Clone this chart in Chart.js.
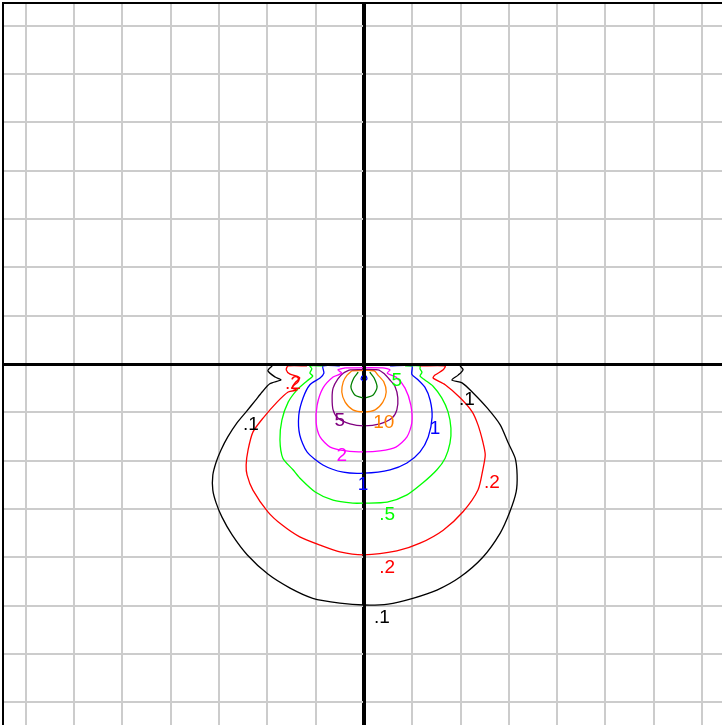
<!DOCTYPE html>
<html>
<head>
    <title>Contour plot</title>
    <meta charset="UTF-8">
    <style>
        html, body { margin: 0; padding: 0; background: #fff; overflow: hidden; }
    </style>
</head>
<body>
<canvas id="myChart" width="722" height="725"></canvas>
<script src="https://cdn.jsdelivr.net/npm/chart.js@4/dist/chart.umd.min.js"></script>
<script>
    // contour levels and their traced outlines (grid units, 1 unit = 1 grid cell)
    var levels = ['.1', '.2', '.5', '1', '2', '5', '10', '20', '50'];

    var c01X = [-1.90, -1.99, -1.84, -1.72, -1.95, -2.11, -2.26, -2.44, -2.63, -2.82, -2.96, -3.06, -3.13, -3.13, -3.06, -2.94, -2.73, -2.42, -1.99, -1.53, -1.06, -0.50, 0,
        0.50, 1.01, 1.51, 1.99, 2.46, 2.82, 3.02, 3.15, 3.17, 3.13, 2.98, 2.82, 2.55, 2.26, 2.03, 1.82, 1.95, 2.05, 1.99];
    var c01Y = [-0.04, -0.14, -0.27, -0.33, -0.41, -0.58, -0.77, -0.99, -1.22, -1.51, -1.78, -2.03, -2.30, -2.61, -2.88, -3.17, -3.54, -3.95, -4.35, -4.64, -4.85, -4.95, -4.99,
        -4.97, -4.85, -4.68, -4.41, -4.00, -3.50, -3.06, -2.65, -2.30, -1.95, -1.62, -1.26, -0.91, -0.60, -0.39, -0.33, -0.23, -0.12, -0.04];

    var c02X = [-1.18, -1.57, -1.61, -1.53, -1.39, -1.33, -1.43, -1.49, -1.39, -1.57, -1.80, -2.09, -2.30, -2.40, -2.44, -2.42, -2.30, -1.99, -1.70, -1.33, -0.91, -0.50, 0,
        0.68, 1.16, 1.64, 2.05, 2.36, 2.46, 2.51, 2.46, 2.36, 2.24, 1.99, 1.68, 1.43, 1.47, 1.64, 1.68, 1.16];
    var c02Y = [-0.04, -0.04, -0.12, -0.21, -0.25, -0.29, -0.39, -0.50, -0.54, -0.58, -0.79, -1.12, -1.41, -1.78, -2.09, -2.30, -2.61, -3.06, -3.33, -3.58, -3.75, -3.89, -3.95,
        -3.87, -3.71, -3.44, -3.06, -2.61, -2.19, -1.88, -1.61, -1.26, -0.99, -0.70, -0.43, -0.29, -0.23, -0.12, -0.04, -0.04];

    var c05X = [-0.85, -1.12, -1.08, -1.12, -1.06, -1.18, -1.39, -1.57, -1.70, -1.74, -1.68, -1.47, -1.33, -1.01, -0.64, -0.23, 0,
        0.48, 0.89, 1.22, 1.51, 1.68, 1.78, 1.80, 1.74, 1.61, 1.43, 1.26, 1.16, 1.20, 1.16, 1.16, 0.85];
    var c05Y = [-0.04, -0.04, -0.10, -0.19, -0.25, -0.35, -0.54, -0.79, -1.16, -1.57, -1.95, -2.19, -2.36, -2.65, -2.82, -2.88, -2.88,
        -2.86, -2.71, -2.46, -2.19, -1.95, -1.64, -1.33, -0.99, -0.70, -0.46, -0.33, -0.25, -0.17, -0.10, -0.04, -0.04];

    var c1X = [-0.50, -0.85, -0.83, -0.91, -1.12, -1.26, -1.35, -1.33, -1.18, -0.85, -0.43, 0,
        0.54, 0.89, 1.16, 1.33, 1.41, 1.37, 1.26, 1.10, 0.99, 0.99, 0.54];
    var c1Y = [-0.04, -0.04, -0.19, -0.29, -0.43, -0.70, -1.06, -1.47, -1.82, -2.09, -2.24, -2.26,
        -2.19, -2.05, -1.82, -1.51, -1.10, -0.75, -0.48, -0.31, -0.21, -0.04, -0.04];

    var c2X = [-0.39, -0.54, -0.46, -0.64, -0.85, -0.97, -0.99, -0.91, -0.70, -0.37, 0,
        0.33, 0.66, 0.89, 0.99, 0.97, 0.85, 0.66, 0.48, 0.54, 0.39, -0.39];
    var c2Y = [-0.08, -0.12, -0.19, -0.27, -0.50, -0.85, -1.22, -1.51, -1.72, -1.80, -1.82,
        -1.80, -1.72, -1.51, -1.22, -0.85, -0.50, -0.27, -0.19, -0.12, -0.08, -0.08];

    var c5X = [-0.29, -0.43, -0.54, -0.64, -0.66, -0.64, -0.54, -0.29, 0,
        0.33, 0.58, 0.68, 0.70, 0.64, 0.52, 0.43, 0.29, -0.29];
    var c5Y = [-0.12, -0.19, -0.31, -0.50, -0.70, -0.95, -1.12, -1.24, -1.28,
        -1.24, -1.12, -0.95, -0.70, -0.46, -0.31, -0.21, -0.12, -0.12];

    var c10X = [-0.25, -0.35, -0.43, -0.46, -0.39, -0.23, 0, 0.23, 0.39, 0.46, 0.41, 0.29, 0.21, -0.25];
    var c10Y = [-0.14, -0.23, -0.37, -0.58, -0.79, -0.95, -0.99, -0.95, -0.79, -0.58, -0.37, -0.23, -0.14, -0.14];

    var c20X = [-0.12, -0.21, -0.27, -0.19, 0, 0.19, 0.27, 0.21, 0.12];
    var c20Y = [-0.17, -0.29, -0.48, -0.64, -0.70, -0.64, -0.48, -0.29, -0.17];

    var c50X = [-0.04, -0.06, 0, 0.06, 0.04, -0.04];
    var c50Y = [-0.25, -0.31, -0.35, -0.31, -0.25, -0.25];

    // contour labels
    var labelText = ['.1', '.1', '.1', '.2', '.2', '.2', '.5', '5', '1', '1', '2', '5', '10'];
    var labelLevel = ['.1', '.1', '.1', '.2', '.2', '.2', '.5', '.5', '1', '1', '2', '5', '10'];
    var labelX = [-2.34, 2.13, 0.37, -1.47, 2.65, 0.48, 0.48, 0.68, 1.47, -0.02, -0.46, -0.50, 0.41];
    var labelY = [-1.26, -0.75, -5.26, -0.41, -2.46, -4.22, -3.13, -0.35, -1.35, -2.51, -1.90, -1.18, -1.22];

    var levelColors = {
        '.1': '#000000', '.2': '#ff0000', '.5': '#00ff00', '1': '#0000ff', '2': '#ff00ff',
        '5': '#800080', '10': '#ff8000', '20': '#008000', '50': '#0000ff'
    };

    var contourX = [c01X, c02X, c05X, c1X, c2X, c5X, c10X, c20X, c50X];
    var contourY = [c01Y, c02Y, c05Y, c1Y, c2Y, c5Y, c10Y, c20Y, c50Y];

    var datasets = levels.map(function (lv, i) {
        return {
            label: lv,
            data: contourX[i].map(function (x, j) { return {x: x, y: contourY[i][j]}; }),
            showLine: true,
            borderColor: levelColors[lv],
            borderWidth: 1.3,
            pointRadius: 0,
            tension: 0.25,
            fill: false
        };
    });

    function integerTicks(scale) {
        var t = [];
        for (var v = -7; v <= 7; v++) t.push({value: v});
        scale.ticks = t;
    }

    var axisStyle = {
        type: 'linear',
        grid: {
            drawTicks: false,
            color: function (c) { return c.tick && c.tick.value === 0 ? '#000000' : '#cccccc'; },
            lineWidth: function (c) { return c.tick && c.tick.value === 0 ? 3 : 2; }
        },
        border: {display: true, color: '#000000', width: 2},
        ticks: {display: false, autoSkip: false},
        afterBuildTicks: integerTicks
    };

    // draw the two axes over the contours, then the level labels
    var overlay = {
        id: 'overlay',
        afterDatasetsDraw: function (chart) {
            var ctx = chart.ctx, a = chart.chartArea;
            var xs = chart.scales.x, ys = chart.scales.y;
            var x0 = Math.round(xs.getPixelForValue(0)) + 0.5;
            var y0 = Math.round(ys.getPixelForValue(0)) + 0.5;
            ctx.save();
            ctx.strokeStyle = '#000000';
            ctx.lineWidth = 3;
            ctx.beginPath();
            ctx.moveTo(x0, a.top);
            ctx.lineTo(x0, a.bottom);
            ctx.moveTo(a.left, y0);
            ctx.lineTo(a.right, y0);
            ctx.stroke();
            ctx.font = '19px "Liberation Sans", Arial, sans-serif';
            ctx.textAlign = 'center';
            ctx.textBaseline = 'middle';
            for (var i = 0; i < labelText.length; i++) {
                ctx.fillStyle = levelColors[labelLevel[i]];
                ctx.fillText(labelText[i], xs.getPixelForValue(labelX[i]), ys.getPixelForValue(labelY[i]));
            }
            ctx.restore();
        }
    };

    var ctx = document.getElementById('myChart').getContext('2d');
    var myChart = new Chart(ctx, {
        type: 'scatter',
        data: {datasets: datasets},
        options: {
            responsive: false,
            animation: false,
            layout: {padding: {left: 3, top: 3, right: 0, bottom: 0}},
            plugins: {legend: {display: false}, tooltip: {enabled: false}},
            scales: {
                x: Object.assign({}, axisStyle, {position: 'top', min: -7.474, max: 7.412}),
                y: Object.assign({}, axisStyle, {position: 'left', min: -7.474, max: 7.474})
            }
        },
        plugins: [overlay]
    });
</script>
</body>
</html>
